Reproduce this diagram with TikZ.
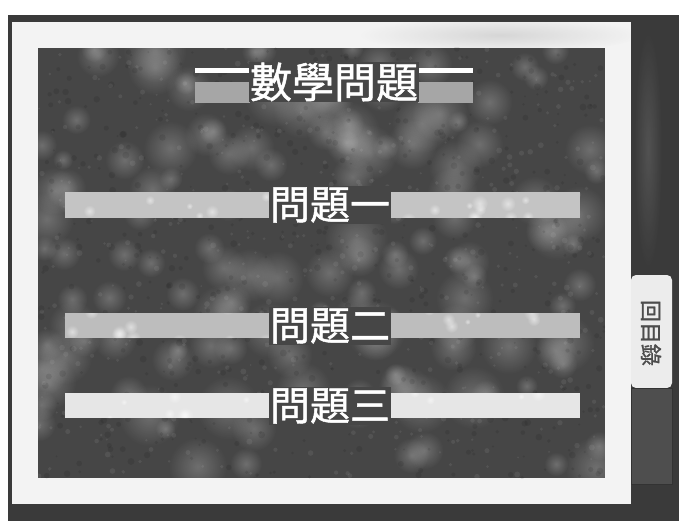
\documentclass[tikz,border=0pt]{standalone}
\usepackage{fontspec}
\usetikzlibrary{fadings}
\newfontfamily\cjk[FakeBold=1.2]{Noto Sans CJK TC}
\definecolor{outerc}{HTML}{3A3A3A}
\definecolor{framec}{HTML}{F3F3F3}
\definecolor{panelc}{HTML}{464646}
\definecolor{barA}{HTML}{C4C4C4}
\definecolor{barB}{HTML}{BDBDBD}
\definecolor{barC}{HTML}{E6E6E6}
\definecolor{tabc}{HTML}{ECECEC}
\definecolor{tabdark}{HTML}{4E4E4E}
\tikzfading[name=softblob, inner color=transparent!0, outer color=transparent!100]
\tikzset{
  qlabel/.style={fill=panelc, inner sep=1pt, text=white, font=\cjk\fontsize{40}{40}\selectfont},
  tlabel/.style={fill=panelc, inner sep=1pt, text=white, font=\cjk\fontsize{42}{42}\selectfont},
  blob/.style={fill=white, path fading=softblob}
}
\begin{document}
\begin{tikzpicture}[x=1pt,y=-1pt]
\useasboundingbox (0,0) rectangle (679,521);
\fill[white] (0,0) rectangle (679,521);
% outer dark frame
\fill[outerc] (8,15) rectangle (679,521);
\begin{scope}
  \clip (632,22) rectangle (679,521);
  \fill[blob, opacity=0.12] (648,150) ellipse[x radius=14, y radius=120];
\end{scope}
% white frame
\fill[framec] (12,22) rectangle (631,504);
\begin{scope}
  \clip (12,22) rectangle (631,48);
  \fill[blob, opacity=0.25, fill=gray] (500,35) ellipse[x radius=140, y radius=18];
\end{scope}
% dark panel with texture
\fill[panelc] (38,48) rectangle (605,478);
\begin{scope}
  \clip (38,48) rectangle (605,478);
  \pgfmathsetseed{11}
  \foreach \i in {1,...,140}{
    \pgfmathsetmacro{\px}{38+567*rnd}
    \pgfmathsetmacro{\py}{48+430*rnd}
    \pgfmathsetmacro{\pr}{10+22*rnd}
    \fill[blob, opacity=0.22] (\px,\py) circle[radius=\pr];
  }
  \foreach \i in {1,...,600}{
    \pgfmathsetmacro{\px}{38+567*rnd}
    \pgfmathsetmacro{\py}{48+430*rnd}
    \pgfmathsetmacro{\pr}{1+2.5*rnd}
    \fill[black, opacity=0.09] (\px,\py) circle[radius=\pr];
  }
  \foreach \i in {1,...,500}{
    \pgfmathsetmacro{\px}{38+567*rnd}
    \pgfmathsetmacro{\py}{48+430*rnd}
    \pgfmathsetmacro{\pr}{1+2*rnd}
    \fill[white, opacity=0.07] (\px,\py) circle[radius=\pr];
  }
\end{scope}
% title side bars
\fill[white] (195,68) rectangle (250,73);
\fill[gray!70] (195,82) rectangle (250,103);
\fill[white] (418,68) rectangle (473,73);
\fill[gray!70] (418,82) rectangle (473,103);
% question bars
\fill[barA] (65,192) rectangle (580,218);
\fill[barB] (65,313) rectangle (580,338);
\fill[barC] (65,393) rectangle (580,418);
\begin{scope}
  \clip (65,192) rectangle (580,218) (65,313) rectangle (580,338) (65,393) rectangle (580,418);
  \pgfmathsetseed{5}
  \foreach \i in {1,...,160}{
    \pgfmathsetmacro{\px}{65+515*rnd}
    \pgfmathsetmacro{\py}{192+226*rnd}
    \pgfmathsetmacro{\pr}{3+6*rnd}
    \fill[blob, opacity=0.5] (\px,\py) circle[radius=\pr];
  }
\end{scope}
% labels
\node[tlabel] (title) at (334,82) {數學問題};
\node[qlabel] (q1) at (330,205) {問題一};
\node[qlabel] (q2) at (330,326) {問題二};
\node[qlabel] (q3) at (330,406) {問題三};
% side tabs
\fill[tabc, rounded corners=5pt] (631,275) rectangle (672,388);
\node[text=black!70, rotate=-90, font=\cjk\fontsize{22}{22}\selectfont] (tab) at (651,333) {回目錄};
\draw[fill=tabdark, draw=black!80] (631,388) rectangle (672,484);
\end{tikzpicture}
\end{document}
